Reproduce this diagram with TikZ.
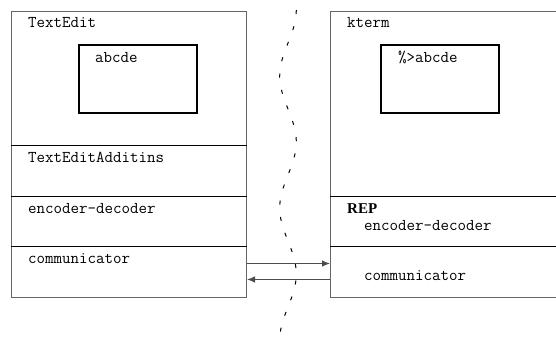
\documentclass[tikz,border=0pt]{standalone}
\usepackage{fontspec}
\setmainfont{Liberation Serif}
\usetikzlibrary{arrows.meta}
\begin{document}
\begin{tikzpicture}[x=1pt,y=-1pt,
  sect/.style={draw=black!60,line width=1pt,rectangle,inner sep=0pt,anchor=north west},
  win/.style={draw=black,line width=2pt,rectangle,inner sep=0pt,anchor=north west,minimum width=118pt,minimum height=68pt},
  lbl/.style={anchor=base west,inner sep=0pt,font=\fontsize{16.5}{18}\ttfamily},
  divider/.style={draw=black,line width=0.8pt},
  msg/.style={draw=black!70,line width=1pt,-{Latex[length=8pt,width=6.5pt]}},
  border/.style={draw=black,line width=1pt,dash pattern=on 4pt off 12.5pt}
]
\useasboundingbox (0,0) rectangle (556,340);
% left column
\node[sect,minimum width=235pt,minimum height=134pt] (ltop) at (11,11) {};
\node[sect,minimum width=235pt,minimum height=51pt] (ladd) at (11,145) {};
\node[sect,minimum width=235pt,minimum height=50pt] (lenc) at (11,196) {};
\node[sect,minimum width=235pt,minimum height=51pt] (lcomm) at (11,246) {};
\draw[divider] (ladd.north west) -- (ladd.north east);
\draw[divider] (lenc.north west) -- (lenc.north east);
\draw[divider] (lcomm.north west) -- (lcomm.north east);
\node[win] (lwin) at (78,44) {};
\node[lbl] (t1) at (28,27) {TextEdit};
\node[lbl] (t2) at (95,62) {abcde};
\node[lbl] (t3) at (28,162) {TextEditAdditins};
\node[lbl] (t4) at (28,213) {encoder-decoder};
\node[lbl] (t5) at (28,263) {communicator};
% right column
\node[sect,minimum width=240pt,minimum height=185pt] (rtop) at (330,11) {};
\node[sect,minimum width=240pt,minimum height=50pt] (renc) at (330,196) {};
\node[sect,minimum width=240pt,minimum height=51pt] (rcomm) at (330,246) {};
\draw[divider] (renc.north west) -- (renc.north east);
\draw[divider] (rcomm.north west) -- (rcomm.north east);
\node[win] (rwin) at (380,44) {};
\node[lbl] (k1) at (347,27) {kterm};
\node[lbl] (k2) at (398,62) {\%>abcde};
\node[anchor=base west,inner sep=0pt,font=\fontsize{15}{17}\selectfont\bfseries] (k3) at (347,213) {REP};
\node[lbl] (k4) at (364,230) {encoder-decoder};
\node[lbl] (k5) at (364,280) {communicator};
% messages
\draw[msg] ([yshift=8.5pt]lcomm.east) -- ([yshift=8.5pt]rcomm.west);
\draw[msg] ([yshift=-7.5pt]rcomm.west) -- ([yshift=-7.5pt]lcomm.east);
% network border
\draw[border] plot[domain=10:340,samples=80,variable=\t] ({288+8.3*cos(2.7273*(\t-10))},\t);
\end{tikzpicture}
\end{document}
